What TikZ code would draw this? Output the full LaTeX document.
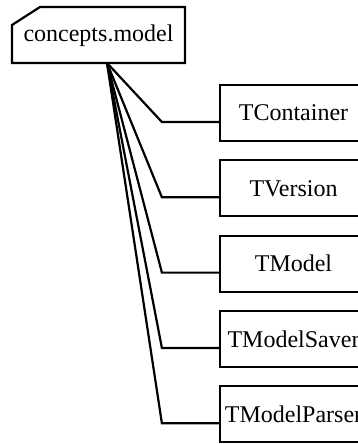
\documentclass[tikz,border=0pt]{standalone}
\usepackage{fontspec}
\setmainfont{Liberation Serif}
\usetikzlibrary{calc}

\begin{document}
\begin{tikzpicture}[x=1pt, y=-1pt, line width=2.2pt,
  lbl/.style={font=\fontsize{24}{28}\selectfont},
  cls/.style={lbl, draw, minimum width=147pt, minimum height=56pt, inner sep=0pt}]
  \useasboundingbox (0,0) rectangle (358,444);
  \clip (0,0) rectangle (358,444);

  % Package box (cut top-left corner)
  \draw (12,25) -- (40,7) -- (185,7) -- (185,63) -- (12,63) -- cycle;
  \node[lbl] (pkg) at (98.5,36) {concepts.model};
  \coordinate (fan) at (107,63);

  % Classes
  \node[cls] (TContainer)   at (293.5,113)   {TContainer};
  \node[cls] (TVersion)     at (293.5,188.3) {TVersion};
  \node[cls] (TModel)       at (293.5,263.6) {TModel};
  \node[cls] (TModelSaver)  at (293.5,339)   {TModelSaver};
  \node[cls] (TModelParser) at (293.5,414.3) {TModelParser};

  % Links
  \draw (fan) -- ($(TContainer.west)+(-57,9)$)   -- ($(TContainer.west)+(0,9)$);
  \draw (fan) -- ($(TVersion.west)+(-57,9)$)     -- ($(TVersion.west)+(0,9)$);
  \draw (fan) -- ($(TModel.west)+(-57,9)$)       -- ($(TModel.west)+(0,9)$);
  \draw (fan) -- ($(TModelSaver.west)+(-57,9)$)  -- ($(TModelSaver.west)+(0,9)$);
  \draw (fan) -- ($(TModelParser.west)+(-57,9)$) -- ($(TModelParser.west)+(0,9)$);
\end{tikzpicture}
\end{document}
